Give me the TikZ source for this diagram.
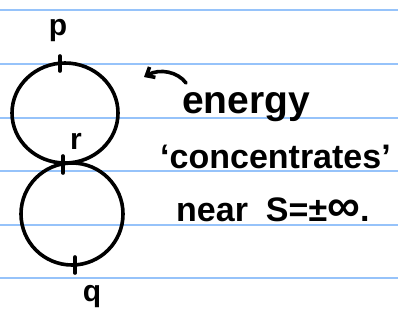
\documentclass[tikz,border=0pt]{standalone}
\usepackage{fontspec}
\setmainfont{Liberation Sans}
\usetikzlibrary{arrows.meta}
\begin{document}
\begin{tikzpicture}[x=1pt,y=-1pt,
  ruled/.style={draw={rgb,255:red,150;green,195;blue,250},line width=2pt},
  ink/.style={draw=black,line width=3.6pt,line cap=round},
  lbl/.style={font=\fontsize{30}{32}\selectfont\bfseries,inner sep=0pt},
  note/.style={font=\fontsize{34}{36}\selectfont\bfseries,inner sep=0pt,anchor=base west}]
\useasboundingbox (0,0) rectangle (398,325);
\fill[white] (0,0) rectangle (398,325);
\foreach \y in {10,63.5,117.5,171,224.5,278}
  \draw[ruled] (0,\y) -- (398,\y);
% loops
\draw[ink] (65,113) ellipse [x radius=53, y radius=50];
\draw[ink] (72,214) ellipse [x radius=51, y radius=51];
% ticks
\draw[ink] (60,56) -- (60,71);
\draw[ink] (63,156) -- (63,173);
\draw[ink] (75,257) -- (75,273);
% labels
\node[lbl] (p) at (58,31) {p};
\node[lbl] (r) at (76,141) {r};
\node[lbl] (q) at (92,297) {q};
% text
\node[note,font=\fontsize{39}{40}\selectfont\bfseries] (e) at (182,113) {energy};
\node[note] (c) at (160,168) {‘concentrates’};
\node[note] (n) at (176,221) {near\hspace{18pt}S=±{\fontsize{46}{46}\selectfont ∞}.};
\coordinate (tail) at (186,83);
\coordinate (tip) at (144,77);
\draw[ink,-{Straight Barb[length=7pt,width=12pt]}] (tail) .. controls (178,72) and (160,68) .. (tip);
\end{tikzpicture}
\end{document}
